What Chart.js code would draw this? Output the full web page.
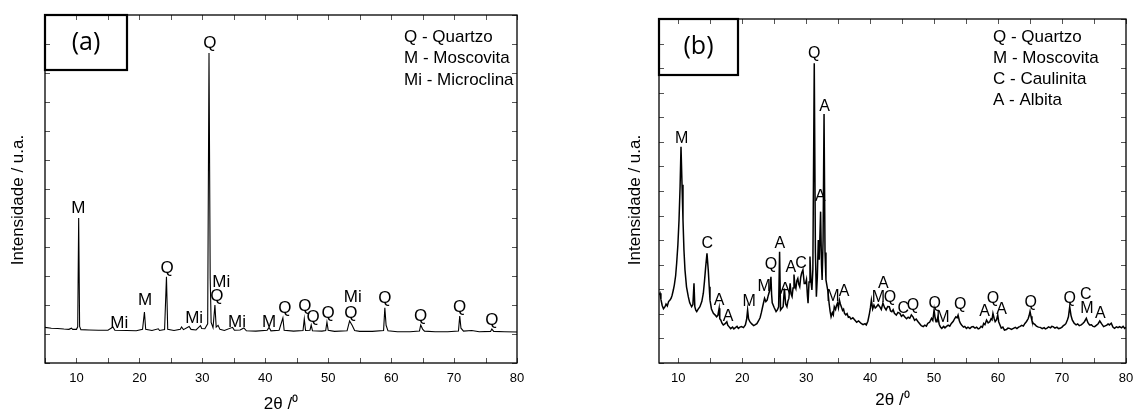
<!DOCTYPE html>
<html>
<head>
<meta charset="utf-8">
<script src="https://cdn.jsdelivr.net/npm/chart.js@4.4.0/dist/chart.umd.min.js"></script>
<style>
  html, body { margin: 0; padding: 0; background: #fff; }
  canvas { position: absolute; top: 0; }
  #chartA { left: 0; }
  #chartB { left: 567px; }
</style>
</head>
<body>
<canvas id="chartA" width="567" height="414"></canvas>
<canvas id="chartB" width="567" height="414"></canvas>
<script>
/* ---------- difratograma (a): [2theta, intensidade] ---------- */
const patternA = [
  [5.0,12.3],[6.0,12.0],[7.0,11.9],[8.0,11.7],[8.8,11.6],[9.2,12.0],[9.4,11.6],[10.0,11.6],
  [10.2,12.5],[10.35,50.0],[10.5,12.6],[10.7,11.5],[12.0,11.4],[13.5,11.3],[15.0,11.3],
  [15.8,12.4],[16.1,11.3],[18.0,11.2],[19.5,11.1],[20.5,11.6],[20.8,17.6],[21.0,11.6],
  [22.0,11.2],[23.0,11.8],[23.2,11.2],[24.0,11.5],[24.3,29.7],[24.5,11.6],[25.5,11.2],
  [26.5,11.6],[26.7,12.4],[27.0,11.5],[27.9,12.6],[28.2,11.6],[29.0,11.4],[29.7,12.9],
  [29.9,11.9],[30.4,11.8],[30.85,13.5],[31.06,106.9],[31.25,29.3],[31.4,14.0],[31.7,12.2],
  [32.0,20.0],[32.2,12.4],[32.5,13.0],[32.8,11.6],[33.5,11.2],[34.8,12.3],[35.1,11.3],
  [36.0,11.4],[36.6,12.1],[37.0,11.1],[38.5,11.0],[40.3,11.3],[40.6,12.3],[40.9,11.1],
  [42.2,11.3],[42.8,15.5],[43.0,11.3],[44.5,11.0],[46.0,11.2],[46.2,15.2],[46.4,11.2],
  [47.1,11.3],[47.3,13.1],[47.5,11.1],[49.0,11.0],[49.6,11.2],[49.8,14.1],[50.0,11.3],
  [51.0,10.9],[53.0,11.1],[53.4,14.5],[53.8,13.0],[54.2,11.2],[55.0,10.9],[57.0,10.9],
  [58.8,11.2],[59.0,19.0],[59.2,13.0],[59.5,11.1],[61.0,10.8],[63.0,10.8],[64.5,11.0],
  [64.7,13.1],[65.0,11.7],[65.3,11.0],[67.0,10.8],[69.0,10.8],[70.7,11.0],[70.9,16.2],
  [71.1,12.0],[71.5,11.0],[72.8,11.2],[74.0,10.8],[75.8,10.9],[76.0,11.7],[76.3,10.9],
  [78.0,10.8],[80.0,10.7]
];

// identificacao das fases: [texto, 2theta, altura]
const peaksA = [
  ['Q',31.2,110.3],['M',10.3,53.4],['Mi',16.8,13.8],['M',20.9,21.7],['Q',24.4,32.8],
  ['Mi',28.7,15.5],['Mi',33.0,27.9],['Q',32.3,23.1],['Mi',35.5,14.1],['M',40.6,14.1],
  ['Q',43.1,19.0],['Q',46.3,19.7],['Q',47.6,15.9],['Q',50.0,17.2],['Mi',53.9,22.8],
  ['Q',53.6,17.2],['Q',59.0,22.4],['Q',64.7,16.2],['Q',70.9,19.3],['Q',76.0,14.8]
];

const keyA = ['Q - Quartzo', 'M - Moscovita', 'Mi - Microclina'];

/* ---------- difratograma (b) ---------- */
const patternB = [
  [7.0,27.7],[7.16,28.4],[7.3,25.9],[7.5,23.4],[7.7,22.1],[7.94,22.9],[8.1,24.0],[8.3,23.2],
  [8.5,25.0],[8.72,25.6],[8.9,26.4],[9.05,27.6],[9.24,29.7],[9.4,31.8],[9.6,35.5],[9.76,40.6],
  [9.95,48.0],[10.13,58.2],[10.3,72.0],[10.44,88.0],[10.6,72.5],[10.75,58.2],[10.9,46.0],
  [11.06,37.9],[11.3,31.0],[11.58,27.0],[11.8,24.5],[12.1,22.9],[12.3,23.8],[12.47,32.4],
  [12.6,22.9],[12.75,21.5],[12.9,20.9],[13.1,21.8],[13.4,22.9],[13.7,25.1],[13.93,28.4],
  [14.1,33.0],[14.3,39.2],[14.5,44.6],[14.7,37.9],[14.85,31.0],[14.97,25.6],[15.2,22.0],
  [15.5,20.2],[15.75,19.6],[16.0,18.8],[16.2,19.4],[16.4,22.3],[16.5,18.0],[16.65,17.5],
  [16.85,16.2],[17.05,15.5],[17.3,15.9],[17.6,16.8],[17.75,15.4],[17.94,14.8],[18.2,14.0],
  [18.5,14.6],[18.7,13.9],[18.9,14.3],[19.2,14.9],[19.4,14.1],[19.65,14.6],[19.9,14.8],
  [20.2,14.4],[20.5,15.5],[20.7,17.8],[20.85,21.6],[21.0,18.0],[21.2,16.8],[21.5,15.9],
  [21.8,15.2],[22.0,15.5],[22.3,16.0],[22.55,17.1],[22.8,18.4],[23.0,20.5],[23.2,22.9],
  [23.5,26.3],[23.7,25.0],[23.9,25.6],[24.1,27.7],[24.3,29.5],[24.5,35.1],[24.6,28.0],
  [24.7,24.5],[25.0,22.6],[25.3,20.9],[25.5,21.6],[25.7,22.9],[25.85,45.3],[26.0,21.6],
  [26.2,22.3],[26.4,22.9],[26.6,30.3],[26.8,24.0],[27.0,22.9],[27.15,25.2],[27.3,26.3],
  [27.5,32.4],[27.65,28.0],[27.8,27.0],[27.95,30.5],[28.1,36.0],[28.25,31.5],[28.4,30.3],
  [28.55,33.5],[28.7,34.4],[28.85,32.0],[29.0,31.0],[29.15,34.8],[29.3,36.6],[29.5,37.9],
  [29.7,32.4],[29.9,32.4],[30.05,34.0],[30.2,27.5],[30.3,24.3],[30.45,33.0],[30.6,43.3],
  [30.75,33.5],[30.9,29.7],[31.05,38.0],[31.27,122.0],[31.45,45.0],[31.6,27.0],[31.75,35.0],
  [31.9,50.0],[32.05,42.0],[32.26,61.6],[32.4,40.0],[32.5,33.8],[32.65,50.0],[32.8,101.3],
  [32.95,45.0],[33.1,33.8],[33.25,31.5],[33.4,29.3],[33.6,24.0],[33.75,21.0],[33.9,18.8],
  [34.1,20.5],[34.25,19.6],[34.4,22.9],[34.6,21.8],[34.75,23.4],[34.9,24.4],[35.05,22.5],
  [35.2,25.6],[35.35,24.0],[35.5,22.9],[35.7,21.4],[35.85,21.9],[36.0,20.2],[36.2,19.6],
  [36.4,20.1],[36.6,18.6],[36.8,18.8],[37.0,17.9],[37.3,18.4],[37.6,17.5],[37.9,16.6],
  [38.2,17.1],[38.6,16.1],[38.9,15.6],[39.2,16.0],[39.4,15.5],[39.65,17.0],[39.9,20.2],
  [40.05,22.5],[40.2,25.6],[40.4,22.0],[40.6,23.6],[40.8,22.4],[41.0,22.9],[41.25,23.8],
  [41.5,22.9],[41.75,21.8],[42.0,24.4],[42.25,22.6],[42.5,21.6],[42.75,23.0],[43.0,22.9],
  [43.2,21.2],[43.4,20.9],[43.6,21.7],[43.8,20.2],[44.1,19.5],[44.35,20.6],[44.65,20.2],
  [44.9,19.0],[45.15,19.6],[45.4,18.8],[45.7,18.0],[45.95,18.6],[46.2,18.2],[46.45,19.6],
  [46.7,18.8],[46.95,17.4],[47.2,17.9],[47.5,16.8],[47.75,16.0],[48.0,15.2],[48.3,14.8],
  [48.55,15.4],[48.8,15.0],[49.0,16.1],[49.3,16.6],[49.6,18.2],[49.8,17.3],[50.0,21.6],
  [50.15,18.5],[50.3,16.8],[50.45,17.4],[50.6,18.8],[50.8,15.8],[51.0,14.6],[51.2,14.1],
  [51.5,14.9],[51.7,14.3],[51.9,14.8],[52.2,15.4],[52.45,15.0],[52.7,16.1],[53.0,17.0],
  [53.2,18.0],[53.4,18.8],[53.6,18.4],[53.75,19.5],[53.95,17.2],[54.1,16.2],[54.3,15.5],
  [54.6,14.6],[54.8,14.9],[55.05,14.1],[55.3,14.6],[55.6,14.0],[55.85,14.7],[56.1,14.8],
  [56.4,14.2],[56.65,14.6],[56.9,13.9],[57.1,14.1],[57.35,14.9],[57.55,14.5],[57.75,16.1],
  [57.95,15.6],[58.2,17.5],[58.45,16.3],[58.7,16.8],[58.9,18.0],[59.05,17.6],[59.2,20.2],
  [59.4,18.0],[59.55,16.8],[59.75,17.5],[59.95,19.5],[60.1,16.8],[60.3,15.5],[60.5,14.2],
  [60.75,14.6],[61.0,13.4],[61.3,13.6],[61.55,14.2],[61.8,14.1],[62.1,13.7],[62.4,14.1],
  [62.7,14.5],[62.95,14.0],[63.2,14.6],[63.4,14.8],[63.7,15.3],[63.95,15.0],[64.2,16.1],
  [64.45,16.9],[64.7,18.0],[64.85,19.2],[65.0,21.0],[65.15,19.0],[65.3,17.2],[65.5,16.1],
  [65.75,15.7],[66.0,15.0],[66.3,14.6],[66.6,14.5],[66.9,14.0],[67.2,14.4],[67.4,13.9],
  [67.6,14.1],[67.9,14.7],[68.2,14.3],[68.4,14.9],[68.6,14.8],[68.9,14.2],[69.2,14.6],
  [69.45,14.0],[69.7,14.1],[70.0,14.6],[70.2,15.2],[70.4,15.5],[70.6,16.0],[70.85,17.6],
  [71.0,18.8],[71.2,22.9],[71.4,19.4],[71.6,17.5],[71.9,16.2],[72.2,15.5],[72.45,15.9],
  [72.7,15.2],[73.0,15.5],[73.25,16.1],[73.5,16.8],[73.8,18.2],[74.05,16.4],[74.3,15.5],
  [74.6,15.6],[74.85,14.9],[75.1,14.8],[75.4,15.4],[75.65,16.0],[75.9,17.1],[76.2,15.9],
  [76.5,14.8],[76.75,15.1],[77.0,15.4],[77.2,15.9],[77.4,15.5],[77.7,16.2],[77.95,14.6],
  [78.2,14.1],[78.5,14.7],[78.75,14.4],[79.0,14.8],[79.3,14.3],[79.55,14.9],[79.8,14.1],
  [80.0,14.5]
];

const peaksB = [
  ['M',10.55,91.5],['C',14.55,48.4],['A',16.4,25.6],['A',17.8,18.8],['M',21.1,24.9],
  ['M',23.45,31.0],['Q',24.5,39.9],['A',25.9,48.4],['A',26.7,29.7],['A',27.6,38.8],
  ['C',29.2,40.6],['Q',31.27,126.0],['A',32.9,104.3],['A',32.2,67.7],['M',34.2,27.0],
  ['A',35.95,29.0],['A',42.05,32.4],['M',41.3,26.6],['Q',43.1,26.6],['C',45.2,22.3],
  ['Q',46.7,23.2],['Q',50.1,24.3],['M',51.4,18.4],['Q',54.1,23.6],['A',57.9,20.9],
  ['Q',59.2,26.3],['A',60.55,21.6],['Q',65.1,24.5],['Q',71.2,26.3],['C',73.7,27.7],
  ['M',73.9,22.3],['A',76.0,20.2]
];

const keyB = ['Q - Quartzo', 'M - Moscovita', 'C - Caulinita', 'A - Albita'];

const FONT = '"Liberation Sans", Arial, sans-serif';
Chart.defaults.font.family = FONT;
Chart.defaults.color = '#000';

// moldura com marcas internas, rotulos de picos, legenda e etiqueta do painel
const xrdDecor = {
  id: 'xrdDecor',
  afterDraw(chart, args, o) {
    const { ctx, chartArea: a, scales: { x, y } } = chart;
    ctx.save();

    ctx.strokeStyle = '#555';
    ctx.lineWidth = 1;
    ctx.beginPath();
    x.ticks.forEach(t => {
      if (t.value % 5 !== 0) return;
      const px = Math.round(x.getPixelForValue(t.value)) + 0.5;
      ctx.moveTo(px, a.bottom); ctx.lineTo(px, a.bottom - 5);
      ctx.moveTo(px, a.top); ctx.lineTo(px, a.top + 5);
    });
    y.ticks.forEach(t => {
      const py = Math.round(y.getPixelForValue(t.value)) + 0.5;
      ctx.moveTo(a.left, py); ctx.lineTo(a.left + 5, py);
      ctx.moveTo(a.right, py); ctx.lineTo(a.right - 5, py);
    });
    ctx.stroke();

    ctx.strokeStyle = '#000';
    ctx.lineWidth = 1.3;
    ctx.strokeRect(a.left, a.top, a.right - a.left, a.bottom - a.top);

    // fases identificadas
    ctx.fillStyle = '#000';
    ctx.font = o.peakSize + 'px ' + FONT;
    ctx.textAlign = 'center';
    ctx.textBaseline = 'middle';
    o.peaks.forEach(([txt, tth, h]) => {
      ctx.fillText(txt, x.getPixelForValue(tth), y.getPixelForValue(h));
    });

    // legenda das fases
    ctx.font = '17px ' + FONT;
    ctx.textAlign = 'left';
    o.key.forEach((txt, i) => ctx.fillText(txt, o.keyX, o.keyY + i * o.keyGap));

    // titulo do eixo y
    ctx.save();
    ctx.translate(o.yTitleX, 200);
    ctx.rotate(-Math.PI / 2);
    ctx.textAlign = 'center';
    ctx.fillText('Intensidade / u.a.', 0, 0);
    ctx.restore();

    // etiqueta (a)/(b)
    ctx.lineWidth = 2.2;
    ctx.strokeRect(a.left, a.top, o.tagW, o.tagH);
    ctx.font = '25px "Open Sans", ' + FONT;
    ctx.textAlign = 'center';
    ctx.fillText(o.tag, a.left + o.tagW / 2, a.top + o.tagH / 2);

    ctx.restore();
  }
};

function buildChart(id, s) {
  return new Chart(document.getElementById(id), {
    type: 'scatter',
    data: {
      datasets: [{
        data: s.pattern.map(([tth, i]) => ({ x: tth, y: i })),
        showLine: true,
        borderColor: '#000',
        borderWidth: s.lineWidth,
        pointRadius: 0,
        tension: 0,
        fill: false
      }]
    },
    options: {
      responsive: false,
      animation: false,
      layout: { padding: { top: s.top, right: s.right, left: 0, bottom: 0 } },
      plugins: {
        legend: { display: false },
        tooltip: { enabled: false },
        xrdDecor: s.decor
      },
      scales: {
        x: {
          type: 'linear',
          min: s.xMin, max: 80,
          grid: { display: false },
          border: { display: false },
          ticks: {
            stepSize: 5, autoSkip: false, maxRotation: 0, padding: 0,
            font: { size: 13 },
            callback: v => (v % 10 === 0 ? v : '')
          },
          title: {
            display: true, text: '2θ /⁰',
            font: { size: 17 },
            padding: { top: 0, bottom: s.xTitlePad }
          },
          afterFit: sc => { sc.height = 51; }
        },
        y: {
          min: 0, max: s.yMax,
          grid: { display: false },
          border: { display: false },
          ticks: { display: false, stepSize: 10 },
          afterFit: sc => { sc.width = s.left; }
        }
      }
    },
    plugins: [xrdDecor]
  });
}

buildChart('chartA', {
  pattern: patternA, lineWidth: 1.1, xMin: 5, yMax: 120,
  left: 45, top: 15, right: 50, xTitlePad: -1,
  decor: { peaks: peaksA, peakSize: 17, key: keyA, keyX: 404, keyY: 37, keyGap: 21.5,
           yTitleX: 18, tag: '(a)', tagW: 82, tagH: 55 }
});

buildChart('chartB', {
  pattern: patternB, lineWidth: 1.5, xMin: 7, yMax: 140,
  left: 92, top: 19, right: 8, xTitlePad: 3,
  decor: { peaks: peaksB, peakSize: 16, key: keyB, keyX: 426, keyY: 37, keyGap: 21,
           yTitleX: 68, tag: '(b)', tagW: 79, tagH: 56 }
});
</script>
</body>
</html>
